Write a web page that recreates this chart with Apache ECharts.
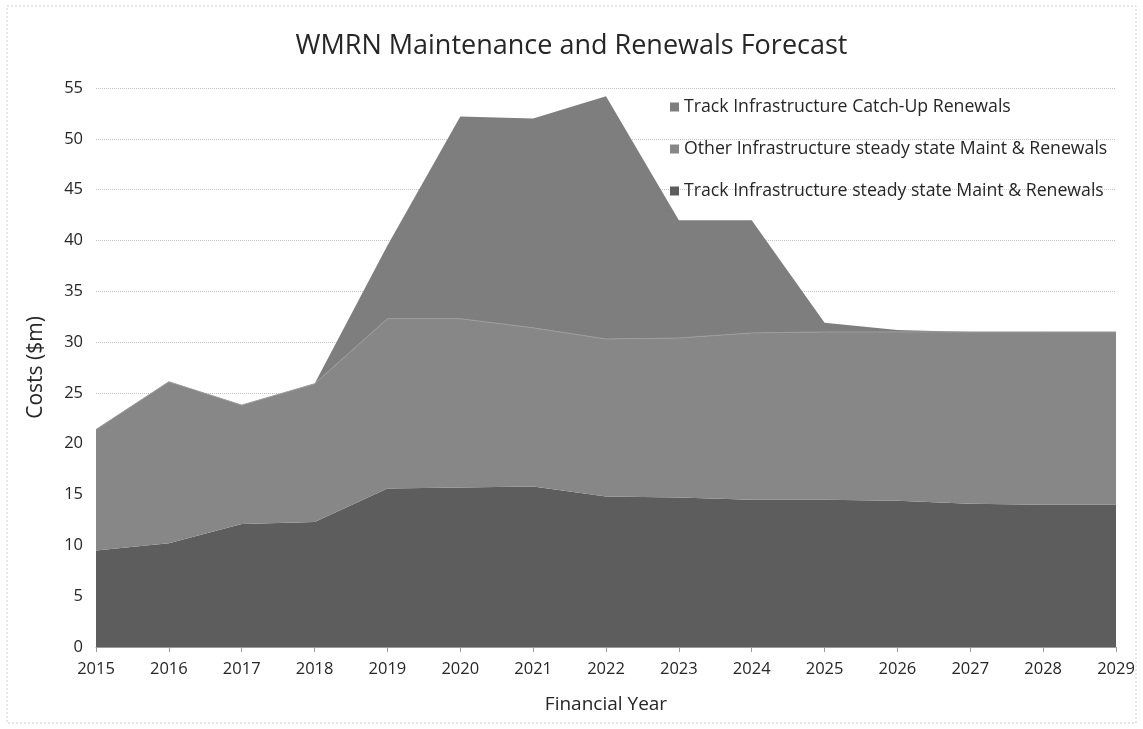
<!DOCTYPE html>
<html>
<head>
<meta charset="utf-8">
<title>WMRN Maintenance and Renewals Forecast</title>
<script src="https://cdn.jsdelivr.net/npm/echarts@6/dist/echarts.min.js"></script>
<style>
  html, body { margin: 0; padding: 0; background: #ffffff; }
  #chart { width: 1143px; height: 729px; }
</style>
</head>
<body>
<div id="chart"></div>
<script>
// Financial years on the category axis
const years = ['2015', '2016', '2017', '2018', '2019', '2020', '2021', '2022',
               '2023', '2024', '2025', '2026', '2027', '2028', '2029'];

// Costs in $m per year, stacked bottom to top
const trackSteady = [9.5, 10.2, 12.1, 12.3, 15.6, 15.7, 15.8, 14.8, 14.7, 14.5, 14.5, 14.4, 14.1, 14.0, 14.0];
const otherSteady = [11.9, 15.9, 11.7, 13.6, 16.7, 16.6, 15.6, 15.5, 15.7, 16.4, 16.5, 16.6, 16.9, 17.0, 17.0];
const trackCatchUp = [0, 0, 0, 0, 7.2, 19.9, 20.6, 23.9, 11.6, 11.1, 0.9, 0.2, 0, 0, 0];

const seriesNames = [
  'Track Infrastructure Catch-Up Renewals',
  'Other Infrastructure steady state Maint & Renewals',
  'Track Infrastructure steady state Maint & Renewals'
];

const FONT = '"Open Sans", "Noto Sans", sans-serif';
const TEXT = '#262626';

const chart = echarts.init(document.getElementById('chart'), null, { renderer: 'canvas' });

chart.setOption({
  backgroundColor: '#ffffff',
  animation: false,
  title: {
    text: 'WMRN Maintenance and Renewals Forecast',
    left: 'center',
    top: 28,
    textStyle: { fontFamily: FONT, fontSize: 27, fontWeight: 'normal', color: TEXT }
  },
  legend: {
    data: seriesNames,
    orient: 'vertical',
    left: 665,
    top: 93,
    itemGap: 24,
    itemWidth: 9,
    itemHeight: 9,
    icon: 'rect',
    textStyle: { fontFamily: FONT, fontSize: 17.7, color: TEXT }
  },
  grid: { left: 96, right: 27, top: 88, bottom: 82, containLabel: false },
  xAxis: {
    type: 'category',
    data: years,
    boundaryGap: false,
    name: 'Financial Year',
    nameLocation: 'middle',
    nameGap: 48,
    nameTextStyle: { fontFamily: FONT, fontSize: 19, color: TEXT },
    axisLine: { show: true, lineStyle: { color: '#9a9a9a', width: 1 } },
    axisTick: { show: true, length: 5, lineStyle: { color: '#9a9a9a' } },
    axisLabel: { fontFamily: FONT, fontSize: 16.5, color: TEXT, margin: 14 },
    splitLine: { show: false }
  },
  yAxis: {
    type: 'value',
    min: 0,
    max: 55,
    interval: 5,
    name: 'Costs ($m)',
    nameLocation: 'middle',
    nameGap: 49,
    nameRotate: 90,
    nameTextStyle: { fontFamily: FONT, fontSize: 21, color: TEXT },
    axisLine: { show: false },
    axisTick: { show: false },
    axisLabel: { fontFamily: FONT, fontSize: 16.5, color: TEXT, margin: 13 },
    splitLine: { show: true, lineStyle: { color: '#c4c4c4', type: 'dotted', width: 1 } }
  },
  series: [
    {
      name: seriesNames[2],
      type: 'line',
      stack: 'costs',
      data: trackSteady,
      symbol: 'none',
      lineStyle: { width: 0 },
      itemStyle: { color: '#5d5d5d' },
      areaStyle: { color: '#5d5d5d', opacity: 1 },
      z: 2
    },
    {
      name: seriesNames[1],
      type: 'line',
      stack: 'costs',
      data: otherSteady,
      symbol: 'none',
      lineStyle: { width: 1, color: '#9c9c9c' },
      itemStyle: { color: '#878787' },
      areaStyle: { color: '#878787', opacity: 1 },
      z: 3
    },
    {
      name: seriesNames[0],
      type: 'line',
      stack: 'costs',
      data: trackCatchUp,
      symbol: 'none',
      lineStyle: { width: 0 },
      itemStyle: { color: '#7e7e7e' },
      areaStyle: { color: '#7e7e7e', opacity: 1 },
      z: 2
    }
  ],
  graphic: [
    {
      type: 'rect',
      shape: { x: 7, y: 6, width: 1129, height: 717 },
      style: { fill: 'none', stroke: '#cfcfcf', lineWidth: 1, lineDash: [2, 2] },
      silent: true,
      z: -1
    }
  ]
});
</script>
</body>
</html>
